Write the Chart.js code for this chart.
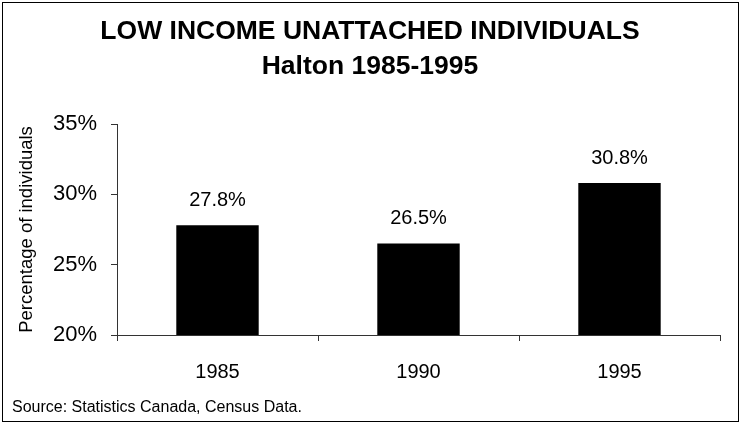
<!DOCTYPE html>
<html>
<head>
<meta charset="utf-8">
<script src="https://cdn.jsdelivr.net/npm/chart.js@4.4.1/dist/chart.umd.min.js"></script>
<style>
  html, body { margin: 0; padding: 0; background: #fff; }
  #wrap { width: 741px; height: 425px; }
</style>
</head>
<body>
<div id="wrap"><canvas id="low-income"></canvas></div>
<script>
// data
var years = ["1985", "1990", "1995"];
var pctIndividuals = [27.8, 26.5, 30.8];
var yTicks = [20, 25, 30, 35];
var titleLines = ["LOW INCOME UNATTACHED INDIVIDUALS", "Halton 1985-1995"];
var sourceNote = "Source: Statistics Canada, Census Data.";

var FONT = "'Liberation Sans', Arial, sans-serif";

// frame, title, source note and value labels
var extras = {
    id: "extras",
    afterDraw: function(chart) {
        var c = chart.ctx;
        c.save();
        c.strokeStyle = "#000";
        c.lineWidth = 1;
        c.strokeRect(2.5, 2.5, 736, 419);

        c.fillStyle = "#000";
        c.textAlign = "center";
        c.textBaseline = "middle";
        c.font = "bold 26.5px " + FONT;
        c.fillText(titleLines[0], 370, 32);
        c.fillText(titleLines[1], 370, 67);

        c.font = "16px " + FONT;
        c.textAlign = "left";
        c.fillText(sourceNote, 12, 408);

        c.font = "20px " + FONT;
        c.textAlign = "center";
        var meta = chart.getDatasetMeta(0);
        meta.data.forEach(function(bar, i) {
            c.fillText(pctIndividuals[i].toFixed(1) + "%", bar.x, bar.y - 25);
        });
        c.restore();
    }
};

var ctx = document.getElementById("low-income").getContext("2d");
var myChart = new Chart(ctx, {
    type: "bar",
    data: {
        labels: years,
        datasets: [{
            label: "Low income unattached individuals",
            data: pctIndividuals,
            backgroundColor: "#000",
            barPercentage: 0.41,
            categoryPercentage: 1
        }]
    },
    options: {
        responsive: true,
        maintainAspectRatio: false,
        animation: false,
        layout: { padding: { left: 0, right: 21, top: 124, bottom: 0 } },
        plugins: {
            legend: { display: false },
            tooltip: { enabled: false },
            title: { display: false }
        },
        scales: {
            x: {
                grid: { offset: true, drawOnChartArea: false, drawTicks: true, tickLength: 6, color: "#333" },
                border: { color: "#333" },
                ticks: { color: "#000", padding: 19, font: { family: FONT, size: 20 } },
                afterFit: function(scale) { scale.height = 90; }
            },
            y: {
                min: 20,
                max: 35,
                afterBuildTicks: function(scale) {
                    scale.ticks = yTicks.map(function(v) { return { value: v }; });
                },
                grid: { drawOnChartArea: false, drawTicks: true, tickLength: 6, color: "#333" },
                border: { color: "#333" },
                ticks: {
                    color: "#000",
                    padding: 14,
                    font: { family: FONT, size: 22 },
                    callback: function(v) { return v + "%"; }
                },
                title: {
                    display: true,
                    text: "Percentage of individuals",
                    color: "#000",
                    font: { family: FONT, size: 18.5 },
                    padding: { top: 16, bottom: 0 }
                },
                afterFit: function(scale) { scale.width = 117; }
            }
        }
    },
    plugins: [extras]
});
</script>
</body>
</html>
